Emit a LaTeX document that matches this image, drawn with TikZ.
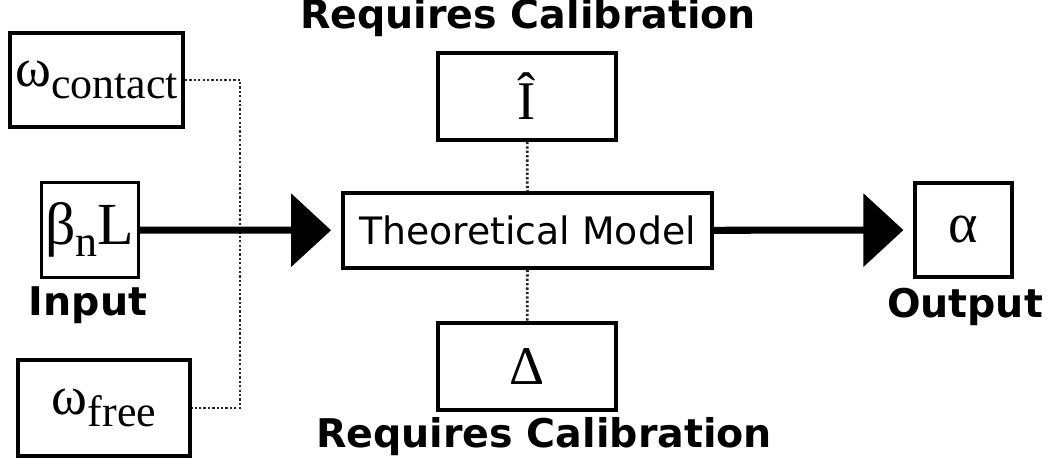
\documentclass[tikz,border=0pt]{standalone}
\usepackage{fontspec}
\usetikzlibrary{arrows.meta,positioning}
\newfontfamily\tagfont{DejaVu Sans}
\newfontfamily\symfont{Liberation Serif}
\newcommand\lowsub[1]{\raisebox{-7pt}{\fontsize{25}{25}\selectfont #1}}
\tikzset{
  >={Triangle[length=8mm,width=14.4mm]},
  box/.style={draw=black,line width=#1,inner sep=0pt,align=center,
    font=\symfont\fontsize{31}{31}\selectfont},
  box/.default=2.2pt,
  flow/.style={->,line width=4pt,shorten >=2mm},
  link/.style={draw=black!85,line width=1.6pt,dash pattern=on 1.3pt off 1.2pt},
  tag/.style={font=\tagfont\bfseries\fontsize{22.5}{26}\selectfont,inner sep=0pt},
}
\begin{document}
\begin{tikzpicture}
  \useasboundingbox (0,0) rectangle (20.94,9.22);
  % inputs
  \node[box,minimum width=3.46cm,minimum height=1.88cm] (contact) at (1.93,7.62) {ω\lowsub{contact}};
  \node[box=1.8pt,minimum width=1.94cm,minimum height=1.90cm,font=\symfont\fontsize{34}{34}\selectfont] (beta) at (1.80,4.62) {β\lowsub{n}L};
  \node[tag] (input) at (1.76,3.12) {Input};
  \node[box,minimum width=3.44cm,minimum height=1.92cm] (free) at (2.08,1.06) {ω\lowsub{free}};
  \coordinate (bus) at (4.80,4.6);
  % model and calibrated parameters
  \node[box,minimum width=7.38cm,minimum height=1.50cm,font=\tagfont\fontsize{21.5}{21.5}\selectfont] (model) at (10.55,4.61) {Theoretical Model};
  \node[box,minimum width=3.56cm,minimum height=1.74cm] (ihat) at (10.54,7.29) {Î};
  \node[box,minimum width=3.56cm,minimum height=1.74cm] (delta) at (10.54,1.89) {Δ};
  \node[tag] (calibtop) at (10.56,8.86) {Requires Calibration};
  \node[tag] (calibbot) at (10.88,0.48) {Requires Calibration};
  % output
  \node[box=1.8pt,minimum width=1.94cm,minimum height=1.88cm,font=\symfont\fontsize{32}{32}\selectfont] (alpha) at (19.27,4.62) {α};
  \node[tag] (output) at (19.30,3.08) {Output};
  \draw[link] (contact.east) -| (bus) |- (free.east);
  \draw[link] (ihat) -- (model);
  \draw[link] (model) -- (delta);
  \draw[flow] (beta) -- (model);
  \draw[flow] (model) -- (alpha);
\end{tikzpicture}
\end{document}
